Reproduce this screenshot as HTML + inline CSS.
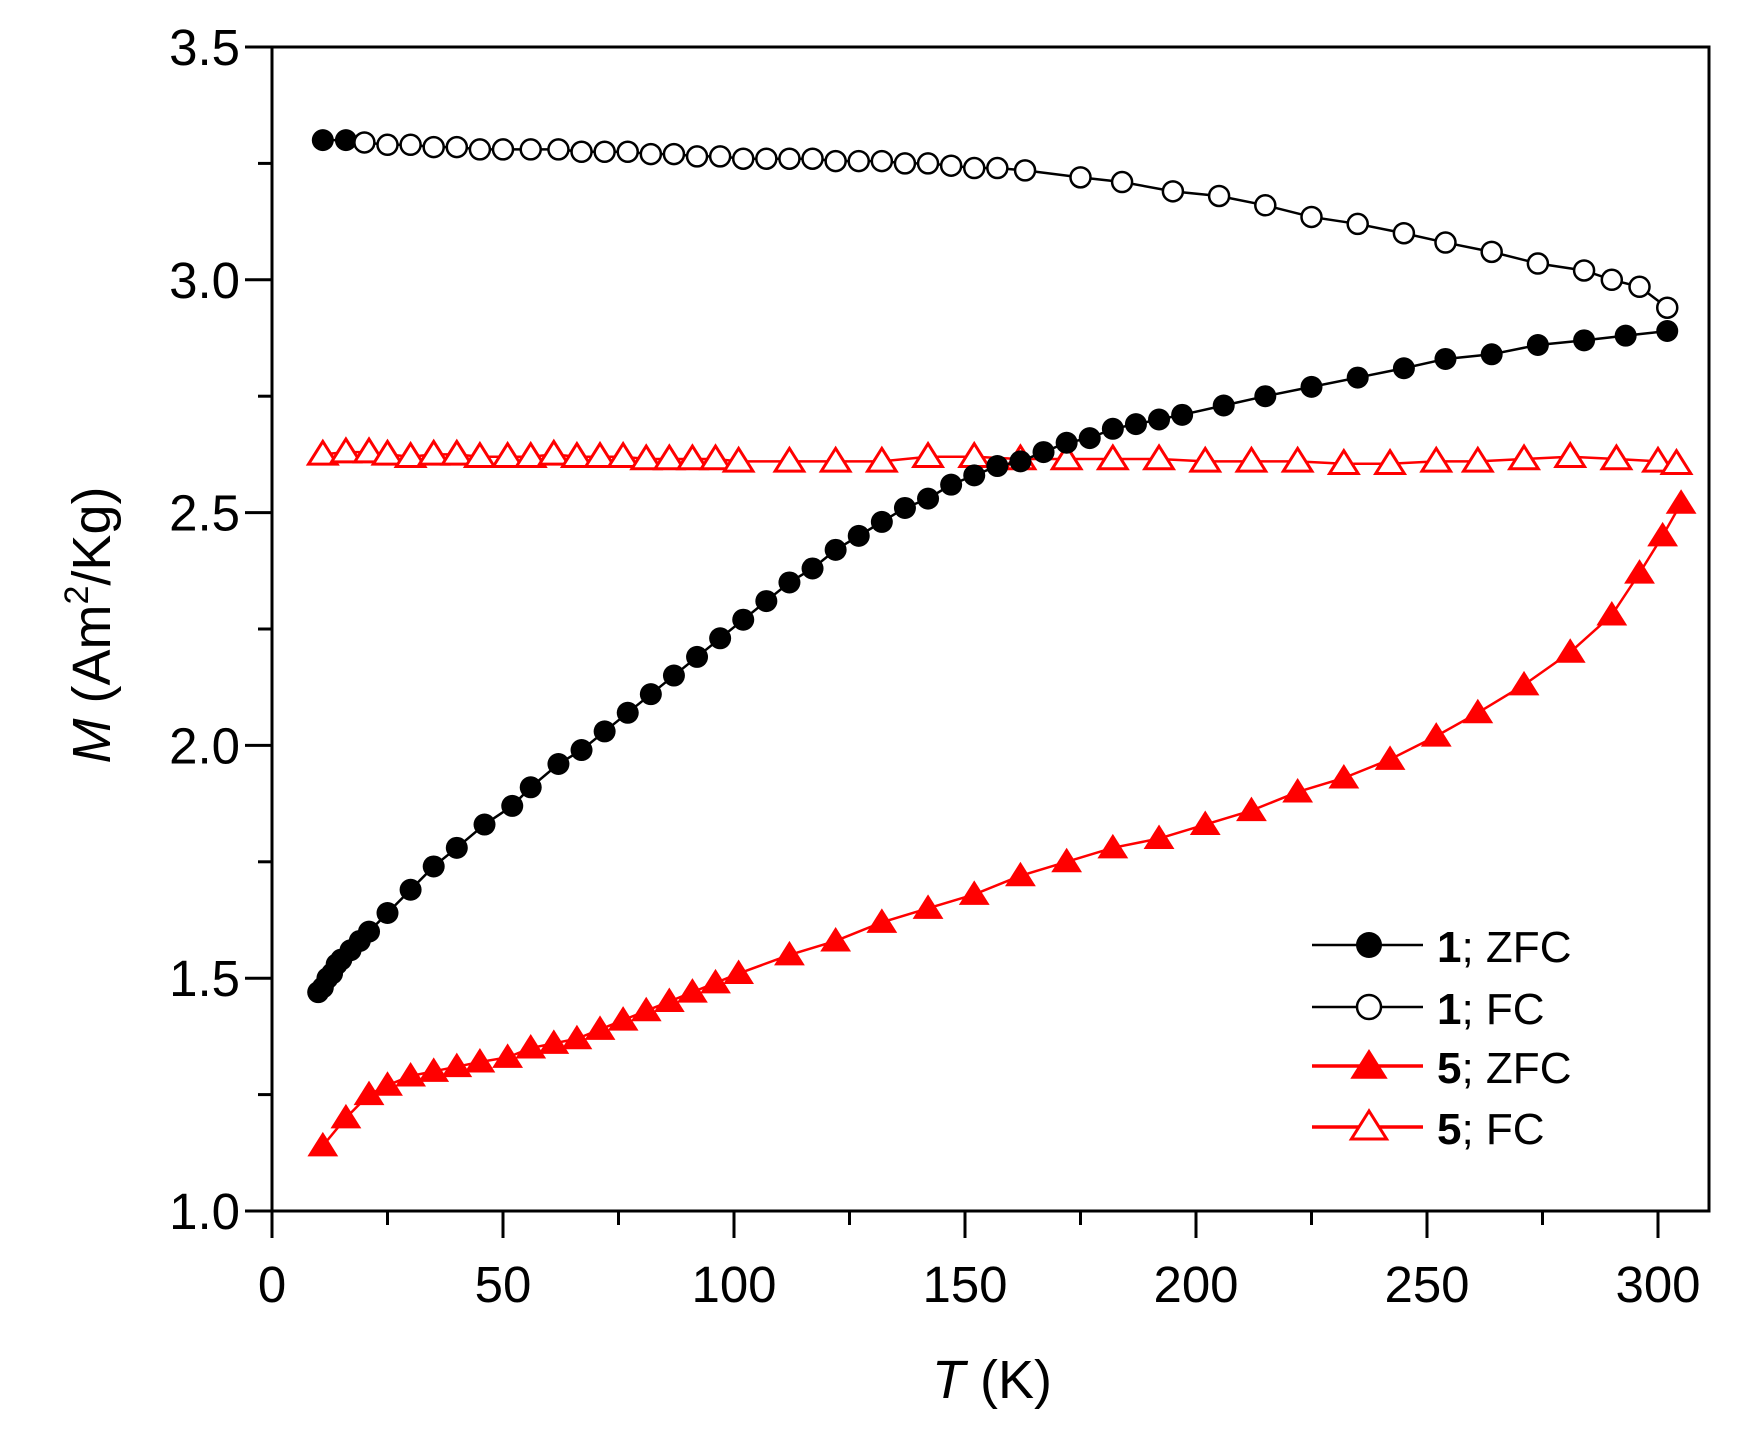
<!DOCTYPE html>
<html><head><meta charset="utf-8"><style>
html,body{margin:0;padding:0;background:#fff}
svg{display:block;font-family:"Liberation Sans",Arial,sans-serif}
</style></head><body>
<svg id="chart" width="1742" height="1432" viewBox="0 0 1742 1432">
<rect x="0" y="0" width="1742" height="1432" fill="#fff"/>
<g id="plot"></g>
<g id="axes"></g>
<g id="legend"></g>
</svg>
<script>
const zfc1T=[10,11,12,13,14,15,17,19,21,25,30,35,40,46,52,56,62,67,72,77,82,87,92,97,102,107,112,117,122,127,132,137,142,147,152,157,162,167,172,177,182,187,192,197,206,215,225,235,245,254,264,274,284,293,302];
const zfc1M=[1.47,1.48,1.50,1.51,1.53,1.54,1.56,1.58,1.60,1.64,1.69,1.74,1.78,1.83,1.87,1.91,1.96,1.99,2.03,2.07,2.11,2.15,2.19,2.23,2.27,2.31,2.35,2.38,2.42,2.45,2.48,2.51,2.53,2.56,2.58,2.60,2.61,2.63,2.65,2.66,2.68,2.69,2.70,2.71,2.73,2.75,2.77,2.79,2.81,2.83,2.84,2.86,2.87,2.88,2.89];
const fc1T=[11,16,20,25,30,35,40,45,50,56,62,67,72,77,82,87,92,97,102,107,112,117,122,127,132,137,142,147,152,157,163,175,184,195,205,215,225,235,245,254,264,274,284,290,296,302];
const fc1M=[3.30,3.30,3.295,3.29,3.29,3.285,3.285,3.28,3.28,3.28,3.28,3.275,3.275,3.275,3.27,3.27,3.265,3.265,3.26,3.26,3.26,3.26,3.255,3.255,3.255,3.25,3.25,3.245,3.24,3.24,3.235,3.22,3.21,3.19,3.18,3.16,3.135,3.12,3.10,3.08,3.06,3.035,3.02,3.00,2.985,2.94];
const zfc5T=[11,16,21,25,30,35,40,45,51,56,61,66,71,76,81,86,91,96,101,112,122,132,142,152,162,172,182,192,202,212,222,232,242,252,261,271,281,290,296,301,305];
const zfc5M=[1.14,1.20,1.25,1.27,1.29,1.30,1.31,1.32,1.33,1.35,1.36,1.37,1.39,1.41,1.43,1.45,1.47,1.49,1.51,1.55,1.58,1.62,1.65,1.68,1.72,1.75,1.78,1.80,1.83,1.86,1.90,1.93,1.97,2.02,2.07,2.13,2.20,2.28,2.37,2.45,2.52];
const fc5T=[11,16,21,25,30,35,40,45,51,56,61,66,71,76,81,86,91,96,101,112,122,132,142,152,162,172,182,192,202,212,222,232,242,252,261,271,281,291,300,304];
const fc5M=[2.625,2.63,2.63,2.625,2.62,2.625,2.625,2.62,2.62,2.62,2.625,2.62,2.62,2.62,2.615,2.615,2.615,2.615,2.61,2.61,2.61,2.61,2.62,2.62,2.615,2.615,2.615,2.615,2.61,2.61,2.61,2.605,2.605,2.61,2.61,2.615,2.62,2.615,2.61,2.605];
const xTicks=[0,50,100,150,200,250,300];
const yTicks=[1.0,1.5,2.0,2.5,3.0,3.5];

const NS="http://www.w3.org/2000/svg";
const X0=272,X1=1658,Y0=1211,Y1=47,RIGHT=1709;
function sx(t){return X0+(t-0)*(X1-X0)/300;}
function sy(m){return Y0-(m-1)*(Y0-Y1)/2.5;}
function mk(tag,attrs,parent){const e=document.createElementNS(NS,tag);for(const k in attrs)e.setAttribute(k,attrs[k]);parent.appendChild(e);return e;}
const plot=document.getElementById('plot'),axes=document.getElementById('axes'),legend=document.getElementById('legend');

function tri(cx,cy,s){return `${cx},${cy-s} ${cx-s*1.1},${cy+s*0.75} ${cx+s*1.1},${cy+s*0.75}`;}
function series(T,M,color,kind,name){
  const g=mk('g',{},plot);
  
  
  const pts=T.map((t,i)=>sx(t)+','+sy(M[i])).join(' ');
  const line=mk('polyline',{points:pts,fill:'none',stroke:color,'stroke-width':2.5},g);
  
  
  T.forEach((t,i)=>{
    const x=sx(t),y=sy(M[i]);let e;
    if(kind==='fc'||(kind==='oc'&&t<17))e=mk('circle',{cx:x,cy:y,r:11,fill:color},g);
    else if(kind==='oc')e=mk('circle',{cx:x,cy:y,r:10,fill:'#fff',stroke:color,'stroke-width':2.5},g);
    else if(kind==='ft')e=mk('polygon',{points:tri(x,y,14),fill:color},g);
    else e=mk('polygon',{points:tri(x,y,13),fill:'#fff',stroke:color,'stroke-width':3},g);
    
    
  });
}
series(fc5T,fc5M,'#ff0000','ot','series-5-fc');
series(zfc5T,zfc5M,'#ff0000','ft','series-5-zfc');
series(fc1T,fc1M,'#000','oc','series-1-fc');
series(zfc1T,zfc1M,'#000','fc','series-1-zfc');

const fr=mk('rect',{x:X0,y:Y1,width:RIGHT-X0,height:Y0-Y1,fill:'none',stroke:'#000','stroke-width':3},axes);


for(let t=0;t<=300;t+=25){
  const major=t%50===0;
  mk('line',{x1:sx(t),x2:sx(t),y1:Y0,y2:Y0+(major?27:14),stroke:'#000','stroke-width':3},axes);
}
xTicks.forEach(t=>{
  const e=mk('text',{x:sx(t),y:1302,'font-size':51,'text-anchor':'middle'},axes);
  e.textContent=t;
  
  
});
for(let m=1;m<=3.5001;m+=0.25){
  const major=Math.abs(m*2-Math.round(m*2))<1e-6;
  mk('line',{x1:X0,x2:X0-(major?27:14),y1:sy(m),y2:sy(m),stroke:'#000','stroke-width':3},axes);
}
yTicks.forEach(m=>{
  const e=mk('text',{x:240,y:sy(m)+18,'font-size':51,'text-anchor':'end'},axes);
  e.textContent=m.toFixed(1);
  
  
});
const xt=mk('text',{x:992,y:1398,'font-size':54,'text-anchor':'middle'},axes);
xt.innerHTML='<tspan font-style="italic">T</tspan> (K)';


const yt=mk('text',{x:0,y:0,'font-size':54,'text-anchor':'middle',transform:'translate(110,625) rotate(-90)'},axes);
yt.innerHTML='<tspan font-style="italic">M</tspan> (Am<tspan font-size="34" dy="-22">2</tspan><tspan dy="22">/Kg)</tspan>';



const rows=[[945,'#000','fc','1','ZFC'],[1007,'#000','oc','1','FC'],[1066,'#ff0000','ft','5','ZFC'],[1127,'#ff0000','ot','5','FC']];
rows.forEach(r=>{
  const g=mk('g',{},legend);
  
  
  const y=r[0],c=r[1];
  mk('line',{x1:1312,x2:1423,y1:y,y2:y,stroke:c,'stroke-width':c==='#000'?2.5:3.5},g);
  if(r[2]==='fc')mk('circle',{cx:1369,cy:y,r:13,fill:c},g);
  else if(r[2]==='oc')mk('circle',{cx:1369,cy:y,r:12,fill:'#fff',stroke:c,'stroke-width':2.5},g);
  else if(r[2]==='ft')mk('polygon',{points:tri(1369,y,17),fill:c},g);
  else mk('polygon',{points:tri(1369,y,16),fill:'#fff',stroke:c,'stroke-width':3},g);
  const t=mk('text',{x:1437,y:y+17,'font-size':44},g);
  t.innerHTML='<tspan font-weight="bold">'+r[3]+'</tspan>; '+r[4];
});
</script>
</body></html>
